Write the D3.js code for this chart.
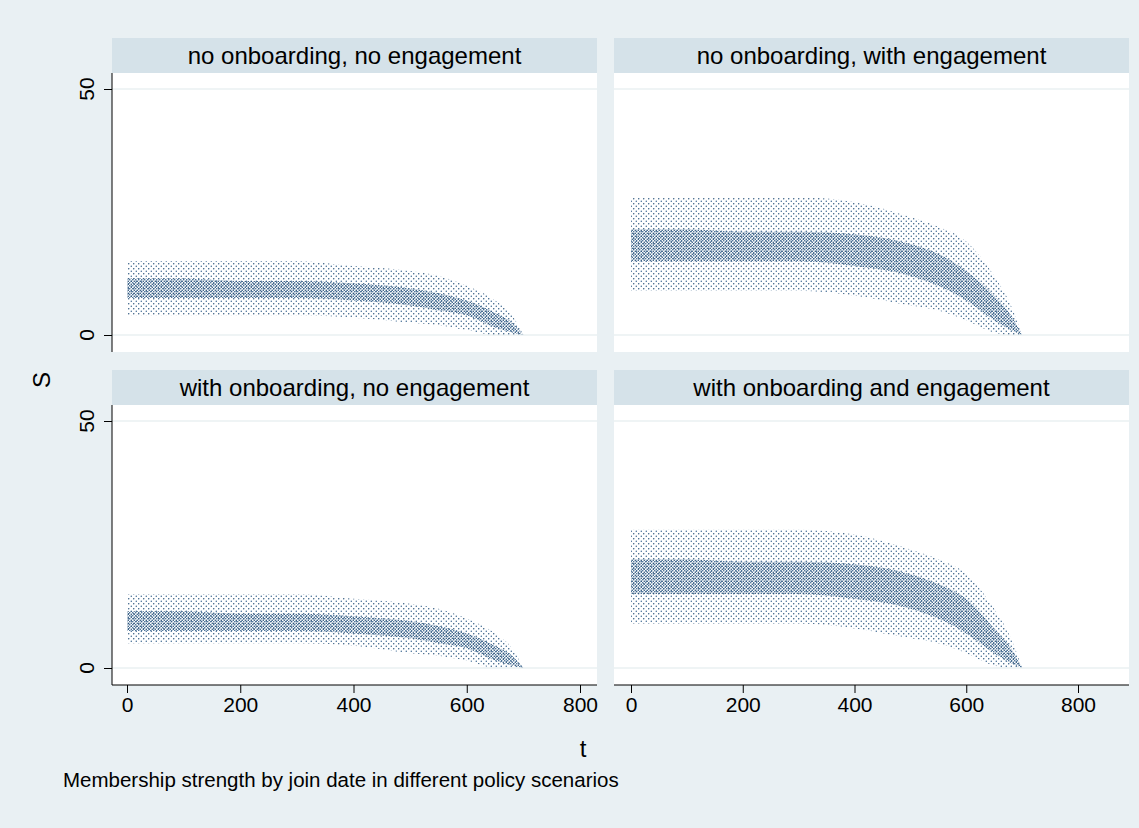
<!DOCTYPE html>
<html><head><meta charset="utf-8">
<script src="https://cdn.jsdelivr.net/npm/d3@7"></script>
<style>body{margin:0;background:#e9f0f3;font-family:"Liberation Sans",Arial,sans-serif}</style>
</head><body><svg id="c" width="1139" height="828"></svg>
<script>
// panel titles
var titles = ["no onboarding, no engagement", "no onboarding, with engagement",
              "with onboarding, no engagement", "with onboarding and engagement"];
var tVals = [0, 100, 200, 300, 400, 500, 550, 600, 650, 680, 700];
// S envelope per panel: outer low / inner low / inner high / outer high
var lo  = [[4,4,4,4,3.5,2.5,2,1,0,0,0],[9,9,9,9,8,6,5,3,0.5,0,0],[5,5,5,5,4.5,3,2.5,1.5,0,0,0],[9,9,9,9,8,6,5,3,0.5,0,0]];
var q1  = [[7.5,7.5,7.5,7.5,7,6,5,4,1.5,0.5,0],[15,15,15,15,14,12,10,7,3,1,0],[7.5,7.5,7.5,7.5,7,6,5,4,1.5,0.5,0],[15,15,15,15,14,12,10,7,3,1,0]];
var q3  = [[11.5,11.5,11,11,10.5,9.5,8.5,7,4.5,2.5,0],[21.5,21.5,21,21,20.5,18.5,16.5,13,8,4,0],[11.5,11.5,11,11,10.5,9.5,8.5,7,4.5,2.5,0],[22,22,21.5,21.5,21,19,17,14,8,4,0]];
var hi  = [[15,15,15,15,14,13,12,10,7,4,0],[28,28,28,28,27,24,22,19,12,6,0],[15,15,15,15,14,13,12,10,7,4,0],[28,28,28,28,27,24,22,19,12,6,0]];
var xTicks = [0, 200, 400, 600, 800];
var yTicks = [0, 50];

var svg = d3.select("#c");
var defs = svg.append("defs");
function dots(id, step, r) {
    var p = defs.append("pattern").attr("id", id).attr("width", step).attr("height", step)
        .attr("patternUnits", "userSpaceOnUse");
    p.append("circle").attr("cx", step/4).attr("cy", step/4).attr("r", r).attr("fill", "#2c5a86");
    p.append("circle").attr("cx", step*3/4).attr("cy", step*3/4).attr("r", r).attr("fill", "#1f4a74");
}
dots("sparse", 5, 0.7);
dots("dense", 3, 0.75);

var cols = [[112, 597], [614, 1129]];
var rows = [[38, 73, 352], [370, 405, 685]];
var xr = [[127, 580], [631, 1078]];

titles.forEach(function(title, i) {
    var c = i % 2, r = Math.floor(i / 2);
    var x0 = cols[c][0], x1 = cols[c][1];
    var sTop = rows[r][0], pTop = rows[r][1], pBot = rows[r][2];
    var x = d3.scaleLinear().domain([0, 800]).range(xr[c]);
    var y = d3.scaleLinear().domain([0, 50]).range([pBot - 17, pTop + 16]);

    svg.append("rect").attr("x", x0).attr("y", sTop).attr("width", x1 - x0).attr("height", pTop - sTop).attr("fill", "#d5e2e9");
    svg.append("text").attr("x", (x0 + x1) / 2).attr("y", sTop + 26).attr("text-anchor", "middle")
        .attr("font-size", 24).text(title);
    svg.append("rect").attr("x", x0).attr("y", pTop).attr("width", x1 - x0).attr("height", pBot - pTop).attr("fill", "#fff");
    yTicks.forEach(function(v) {
        svg.append("line").attr("x1", x0).attr("x2", x1).attr("y1", y(v)).attr("y2", y(v)).attr("stroke", "#eaf0f2").attr("stroke-width", 1.5);
    });

    var outer = d3.area().x(function(d, k) { return x(tVals[k]); })
        .y0(function(d, k) { return y(lo[i][k]); }).y1(function(d, k) { return y(hi[i][k]); }).curve(d3.curveMonotoneX);
    var inner = d3.area().x(function(d, k) { return x(tVals[k]); })
        .y0(function(d, k) { return y(q1[i][k]); }).y1(function(d, k) { return y(q3[i][k]); }).curve(d3.curveMonotoneX);
    svg.append("path").datum(tVals).attr("d", outer).attr("fill", "url(#sparse)");
    svg.append("path").datum(tVals).attr("d", inner).attr("fill", "url(#dense)");

    if (r === 1) {
        var ax = svg.append("g").attr("transform", "translate(0," + pBot + ")")
            .call(d3.axisBottom(x).tickValues(xTicks).tickSize(8).tickPadding(4));
        ax.select(".domain").attr("d", "M" + x0 + ",0H" + x1);
        ax.selectAll("text").attr("font-size", 21).attr("font-family", "Liberation Sans, Arial");
    }
    if (c === 0) {
        var ay = svg.append("g").attr("transform", "translate(" + x0 + ",0)")
            .call(d3.axisLeft(y).tickValues(yTicks).tickSize(8).tickFormat(""));
        ay.select(".domain").attr("d", "M0," + pTop + "V" + pBot);
        yTicks.forEach(function(v) {
            svg.append("text").attr("transform", "translate(" + (x0 - 18) + "," + y(v) + ") rotate(-90)")
                .attr("text-anchor", "middle").attr("font-size", 21).text(v);
        });
    }
});

svg.append("text").attr("transform", "translate(50,380) rotate(-90)").attr("text-anchor", "middle")
    .attr("font-size", 24).text("S");
svg.append("text").attr("x", 583).attr("y", 757).attr("text-anchor", "middle").attr("font-size", 24).text("t");
svg.append("text").attr("x", 63).attr("y", 787).attr("font-size", 20.5).text("Membership strength by join date in different policy scenarios");
</script></body></html>
